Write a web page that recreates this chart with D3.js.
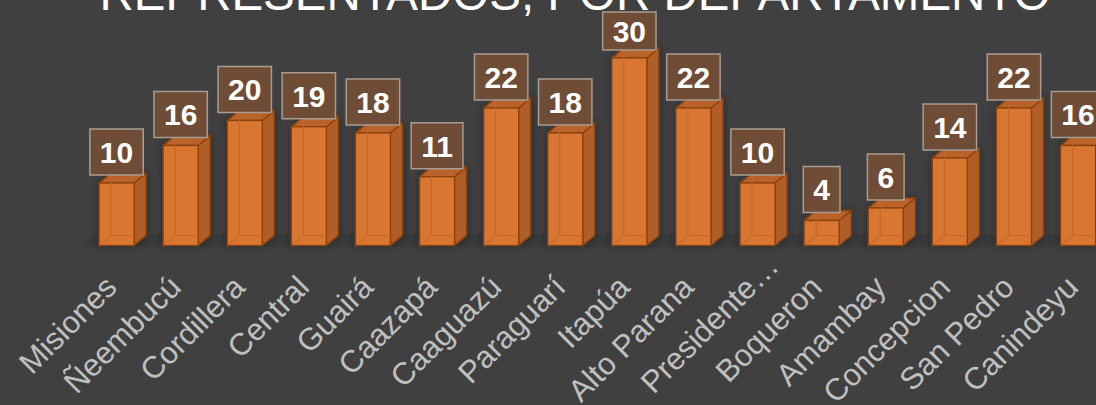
<!DOCTYPE html>
<html>
<head>
<meta charset="utf-8">
<script src="https://cdn.jsdelivr.net/npm/d3@7"></script>
<style>
  body { margin: 0; background: #404040; overflow: hidden; }
  svg { display: block; font-family: "Liberation Sans", Arial, sans-serif; }
</style>
</head>
<body>
<script>
// Chart data
let departamentos = ["Misiones", "Ñeembucú", "Cordillera", "Central", "Guairá", "Caazapá",
    "Caaguazú", "Paraguarí", "Itapúa", "Alto Parana", "Presidente…", "Boqueron",
    "Amambay", "Concepcion", "San Pedro", "Canindeyu"];
let cantidades = [10, 16, 20, 19, 18, 11, 22, 18, 30, 22, 10, 4, 6, 14, 22, 16];
let titulo = "REPRESENTADOS, POR DEPARTAMENTO";

// SVG area
let svgWidth = 1096;
let svgHeight = 405;

// 3D depth of the bars
let depthX = 12;
let depthY = 10;
let baseY = 245.5;

let svg = d3.select("body")
    .append("svg")
    .attr("width", svgWidth)
    .attr("height", svgHeight);

// soft shadow around the bars
let defs = svg.append("defs");
defs.append("filter")
    .attr("id", "sombra")
    .attr("x", "-30%").attr("y", "-30%")
    .attr("width", "160%").attr("height", "160%")
    .append("feDropShadow")
    .attr("dx", 0).attr("dy", 0)
    .attr("stdDeviation", 5)
    .attr("flood-color", "#000")
    .attr("flood-opacity", 0.35);

// Scales
let xScale = d3.scaleBand()
    .domain(departamentos)
    .range([84.5, 84.5 + 16 * 64.1])
    .paddingInner(0.454)
    .paddingOuter(0.227);

let yScale = d3.scaleLinear()
    .domain([0, 30])
    .range([baseY, baseY - 187.5]);

// Title (cut at the top)
svg.append("text")
    .attr("x", 575)
    .attr("y", 10)
    .attr("text-anchor", "middle")
    .attr("fill", "#ffffff")
    .style("font-size", "47.5px")
    .text(titulo);

// Floor
let x0 = xScale.range()[0];
let x1 = xScale.range()[1];
svg.append("polygon")
    .attr("points", [[x0 - 4, baseY + 1.5], [x1, baseY + 1.5], [x1 + depthX, baseY + 1.5 - depthY - 3], [x0 - 4 + depthX + 1, baseY + 1.5 - depthY - 3]].join(" "))
    .attr("fill", "#393a3c");

let w = xScale.bandwidth();
let data = departamentos.map((d, i) => ({ name: d, value: cantidades[i] }));

// Bars
let bars = svg.append("g")
    .attr("filter", "url(#sombra)")
    .selectAll("g")
    .data(data)
    .enter()
    .append("g");

// side face
bars.append("polygon")
    .attr("points", d => {
        let x = xScale(d.name), y = yScale(d.value);
        return [[x + w, y], [x + w + depthX, y - depthY], [x + w + depthX, baseY - depthY], [x + w, baseY]].join(" ");
    })
    .attr("fill", "#b05d25")
    .attr("stroke", "#8a4210")
    .attr("stroke-width", 1.3)
    .attr("stroke-linejoin", "round");

// top face
bars.append("polygon")
    .attr("points", d => {
        let x = xScale(d.name), y = yScale(d.value);
        return [[x, y], [x + depthX, y - depthY], [x + w + depthX, y - depthY], [x + w, y]].join(" ");
    })
    .attr("fill", "#b9622a")
    .attr("stroke", "#8a4210")
    .attr("stroke-width", 1.3)
    .attr("stroke-linejoin", "round");

// front face
bars.append("rect")
    .attr("x", d => xScale(d.name))
    .attr("y", d => yScale(d.value))
    .attr("width", w)
    .attr("height", d => baseY - yScale(d.value))
    .attr("fill", "#d97631")
    .attr("stroke", "#8a4210")
    .attr("stroke-width", 1.3);

// hidden back edges seen through the front
bars.append("path")
    .attr("d", d => {
        let x = xScale(d.name), y = yScale(d.value);
        return `M${x + depthX},${y - depthY + 1} L${x + depthX},${baseY - depthY} L${x + w},${baseY - depthY} M${x},${baseY} L${x + depthX},${baseY - depthY}`;
    })
    .attr("fill", "none")
    .attr("stroke", "#c2662a")
    .attr("stroke-width", 1);

// Data labels
let etiquetas = svg.append("g")
    .selectAll("g")
    .data(data)
    .enter()
    .append("g");

etiquetas.each(function(d) {
    let g = d3.select(this);
    let cx = xScale(d.name) + w / 2;
    let bottom = yScale(d.value) - depthY + 2;
    let top = Math.max(12, bottom - 46);
    let rect = g.append("rect");
    let txt = g.append("text")
        .attr("x", cx)
        .attr("y", (top + bottom) / 2)
        .attr("dy", "0.36em")
        .attr("text-anchor", "middle")
        .attr("fill", "#ffffff")
        .style("font-size", "30px")
        .style("font-weight", "bold")
        .text(d.value);
    let tw = txt.node().getComputedTextLength() + 20;
    rect.attr("x", cx - tw / 2)
        .attr("y", top)
        .attr("width", tw)
        .attr("height", bottom - top)
        .attr("fill", "#6e4c36")
        .attr("stroke", "#a89c94")
        .attr("stroke-width", 1.5);
});

// Category labels, rotated (a trailing ellipsis hangs past the tick)
svg.append("g")
    .selectAll("text")
    .data(departamentos)
    .enter()
    .append("text")
    .attr("transform", d => `translate(${xScale(d) + w / 2 + 2}, 289) rotate(-45)`)
    .attr("dx", d => d.endsWith("…") ? "0.95em" : 0)
    .attr("text-anchor", "end")
    .attr("fill", "#c0c0c0")
    .style("font-size", "31px")
    .text(d => d);
</script>
</body>
</html>
